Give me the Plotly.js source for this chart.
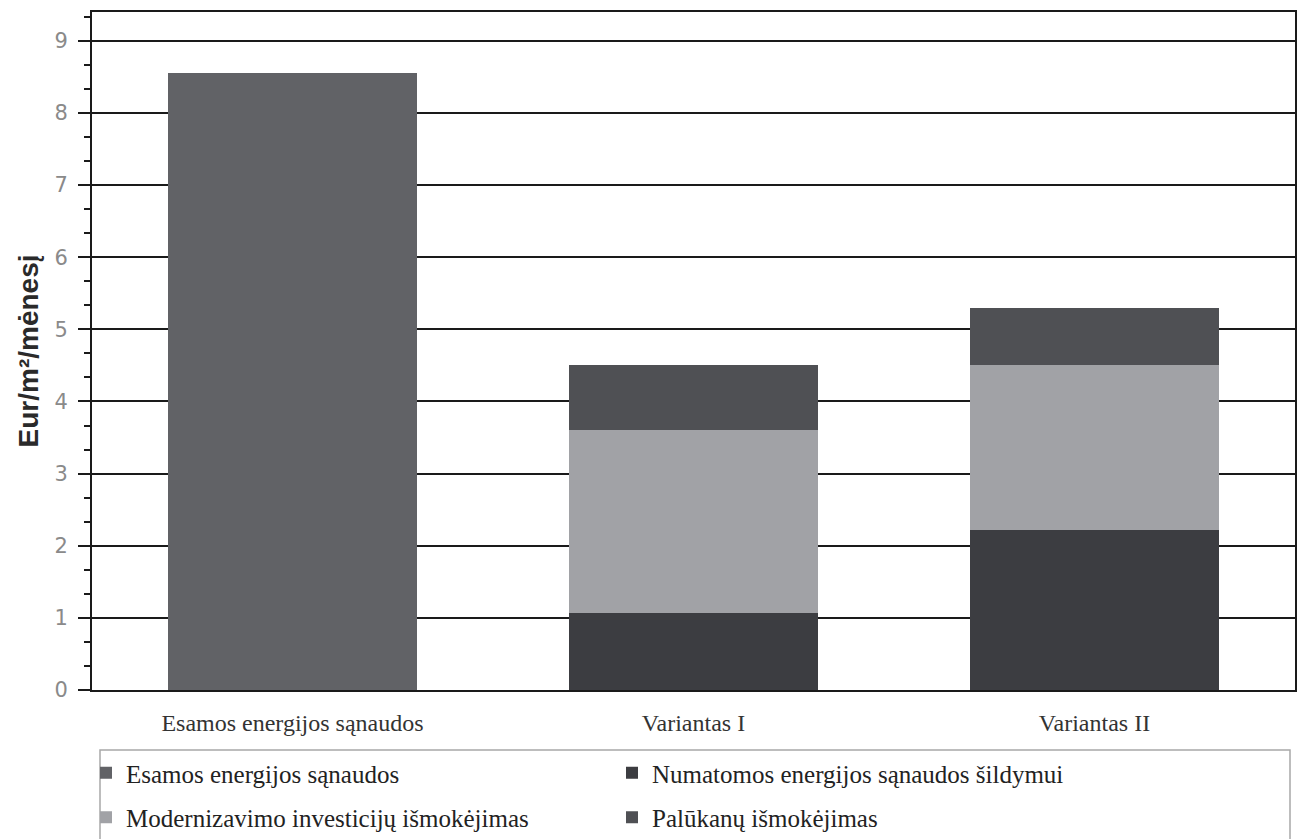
<!DOCTYPE html>
<html>
<head>
<meta charset="utf-8">
<script src="https://cdn.plot.ly/plotly-3.0.1.min.js"></script>
<style>html,body{margin:0;padding:0;background:#fff;}#chart{width:1301px;height:839px;}</style>
</head>
<body>
<div id="chart"></div>
<script>
const categories = ['Esamos energijos sąnaudos', 'Variantas I', 'Variantas II'];
const seriesNames = ['Esamos energijos sąnaudos', 'Numatomos energijos sąnaudos šildymui', 'Modernizavimo investicijų išmokėjimas', 'Palūkanų išmokėjimas'];
const currentCats = ['Esamos energijos sąnaudos'];
const currentValues = [8.55];
const variantCats = ['Variantas I', 'Variantas II'];
const heatingValues = [1.07, 2.22];
const investmentValues = [2.53, 2.28];
const interestValues = [0.90, 0.80];
const yTickVals = [0, 1, 2, 3, 4, 5, 6, 7, 8, 9];
const colors = ['#616266', '#3c3d41', '#a1a2a6', '#4f5054'];

const serif = 'Liberation Serif';
const traces = [
  {type: 'bar', name: seriesNames[0], x: currentCats, y: currentValues, marker: {color: colors[0]}, legend: 'legend', legendgroup: 'g0', legendrank: 1},
  {type: 'bar', name: seriesNames[1], x: variantCats, y: heatingValues, marker: {color: colors[1]}, legend: 'legend2', legendgroup: 'g1', legendrank: 1},
  {type: 'bar', name: seriesNames[2], x: variantCats, y: investmentValues, marker: {color: colors[2]}, legend: 'legend', legendgroup: 'g2', legendrank: 2},
  {type: 'bar', name: seriesNames[3], x: variantCats, y: interestValues, marker: {color: colors[3]}, legend: 'legend2', legendgroup: 'g3', legendrank: 2}
];

const L = 92, R = 6, T = 12, B = 149;
const W = 1301, H = 839;
const pw = W - L - R, ph = H - T - B;
const px = v => (v - L) / pw;
const py = v => (H - B - v) / ph;

const legendBase = {
  orientation: 'v', xanchor: 'left', yanchor: 'top',
  font: {family: serif, size: 25, color: '#222222'},
  bgcolor: 'rgba(0,0,0,0)', borderwidth: 0,
  tracegroupgap: 9, traceorder: 'grouped'
};

const layout = {
  width: W, height: H,
  margin: {l: L, r: R, t: T, b: B, autoexpand: false},
  paper_bgcolor: '#ffffff', plot_bgcolor: '#ffffff',
  font: {family: serif},
  barmode: 'stack', bargap: 0.38,
  showlegend: true,
  xaxis: {
    type: 'category', categoryorder: 'array', categoryarray: categories,
    showline: true, linecolor: '#1a1a1a', linewidth: 2, mirror: true,
    ticks: '', showgrid: false, zeroline: false, automargin: false,
    tickfont: {family: serif, size: 24, color: '#333333'},
    ticklabelstandoff: 10
  },
  yaxis: {
    range: [0, 9.4], tickvals: yTickVals, ticktext: yTickVals.map(String),
    showline: true, linecolor: '#1a1a1a', linewidth: 2, mirror: true,
    showgrid: true, gridcolor: '#1a1a1a', gridwidth: 2, zeroline: false, automargin: false,
    ticks: 'outside', ticklen: 12, tickwidth: 2, tickcolor: '#1a1a1a',
    minor: {dtick: 1/3, tick0: 0, ticks: 'outside', ticklen: 6, tickwidth: 2, tickcolor: '#1a1a1a', showgrid: false},
    tickfont: {family: 'DejaVu Sans', size: 21, color: '#8a8a8a'},
    ticklabelstandoff: 6,
    title: {text: 'Eur/m²/mėnesį', font: {family: 'Liberation Sans', size: 28, color: '#2a2a2a', weight: 'bold'}, standoff: 8}
  },
  legend: Object.assign({}, legendBase, {x: px(86), y: py(750)}),
  legend2: Object.assign({}, legendBase, {x: px(612), y: py(750)}),
  shapes: [
    {type: 'rect', xref: 'paper', yref: 'paper', x0: px(100), x1: px(1290), y0: py(750), y1: py(845),
     line: {color: '#a8a8a8', width: 1.5}, fillcolor: 'rgba(0,0,0,0)'}
  ]
};

Plotly.newPlot('chart', traces, layout, {displayModeBar: false, staticPlot: true});
</script>
</body>
</html>
